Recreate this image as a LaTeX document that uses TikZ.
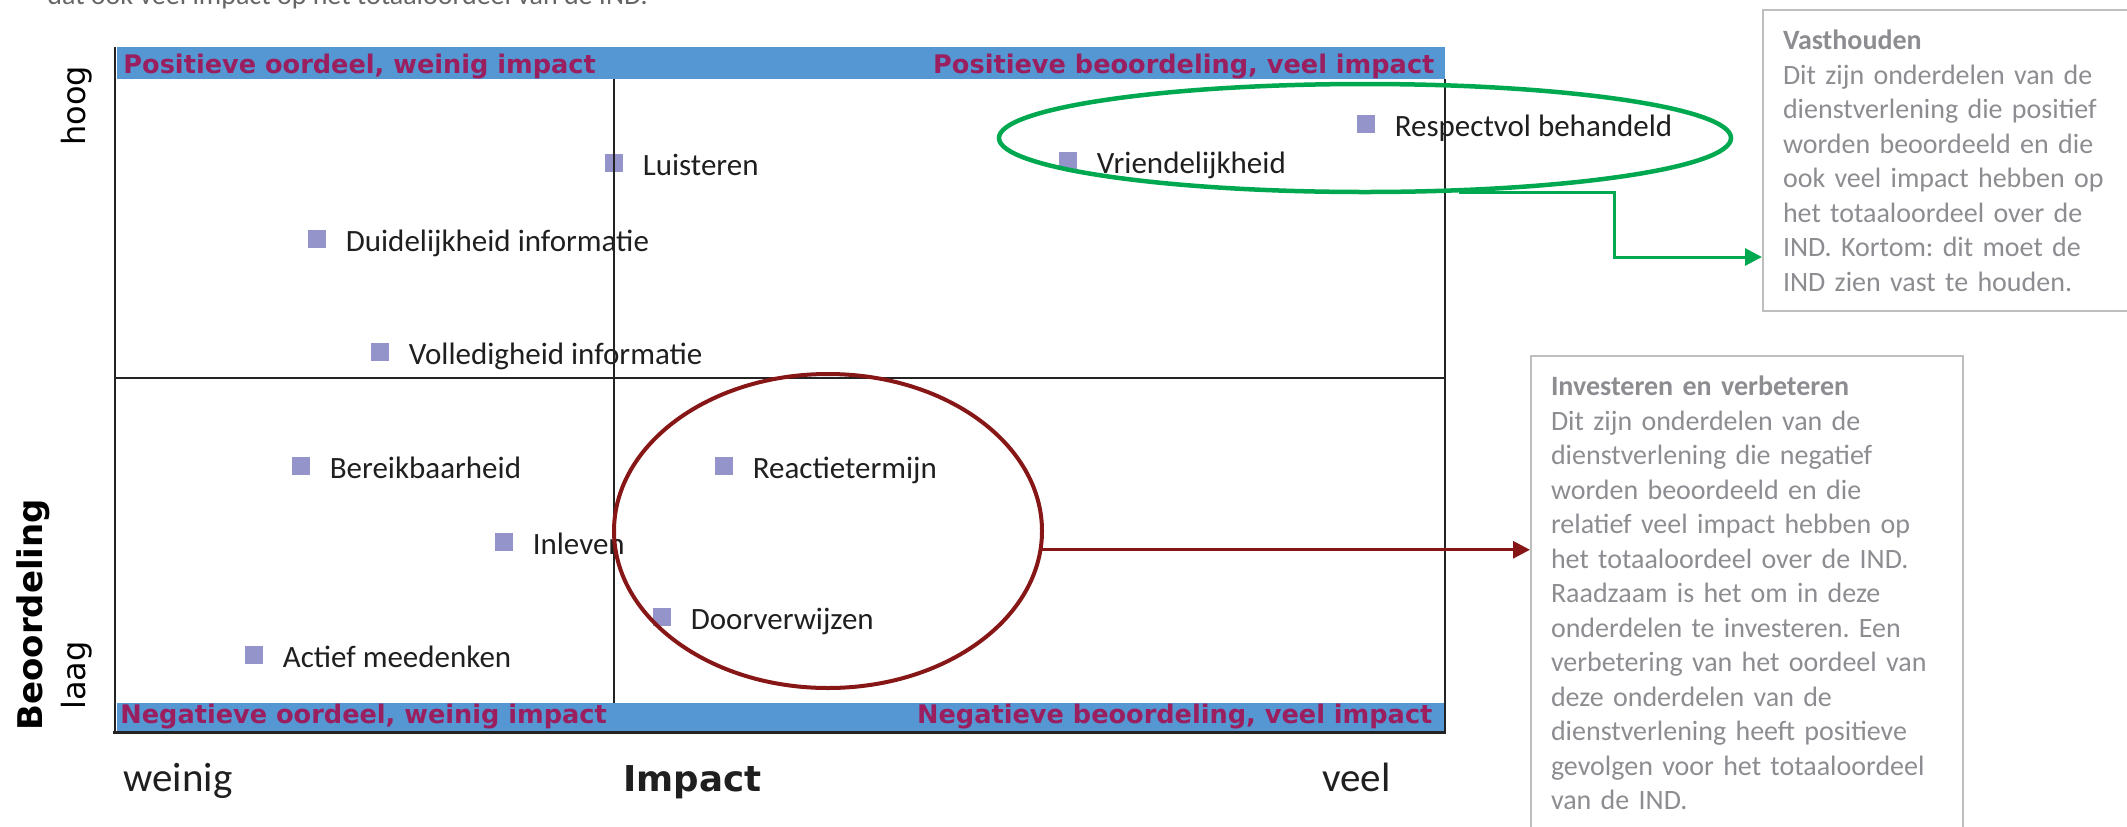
\documentclass[tikz,border=0pt]{standalone}
\usepackage{fontspec}
\setmainfont{Carlito}
\newfontfamily\dejavu{DejaVu Sans}
\usepackage{tikz}
\definecolor{bandblue}{RGB}{84,151,210}
\definecolor{bandtext}{RGB}{155,30,95}
\definecolor{puntblue}{RGB}{148,148,203}
\definecolor{keepgreen}{RGB}{0,168,80}
\definecolor{investred}{RGB}{135,22,22}
\definecolor{boxgray}{RGB}{190,190,190}
\definecolor{notegray}{RGB}{140,140,145}
\definecolor{framegray}{RGB}{35,35,35}
\usetikzlibrary{arrows.meta}
\usetikzlibrary{shapes}
\usetikzlibrary{positioning}

\begin{document}
\frenchspacing
\begin{tikzpicture}[x=0.5pt,y=-0.5pt]
        \tikzset{punt/.style={rectangle, fill=puntblue, minimum size=9pt, inner sep=0pt},
                puntlab/.style={font=\fontsize{15.5}{18}\selectfont, text=black!88, inner sep=0pt,
                                text height=12pt, text depth=0pt},
                quadband/.style={rectangle, fill=bandblue, inner sep=0pt, anchor=north west},
                quadlab/.style={font=\dejavu\bfseries\fontsize{12.8}{15}\selectfont, text=bandtext, inner sep=0pt},
                axislab/.style={font=\fontsize{20.5}{24}\selectfont, text=black!88, inner sep=0pt, anchor=base west},
                sidelab/.style={font=\dejavu\fontsize{16}{19}\selectfont, inner sep=0pt, rotate=90, anchor=base west},
                notebox/.style={draw=boxgray, line width=1pt, text=notegray, align=left, text width=196pt,
                                inner sep=10pt, anchor=north west, font=\fontsize{14}{17.25}\selectfont},
                frame/.style={draw=framegray, line width=1pt},
                >={Triangle[length=8.5pt,width=8.5pt]},
                node distance=9.5pt}
        \useasboundingbox (0,0) rectangle (2127,826);

        % tekst boven, half afgesneden
        \node[font=\fontsize{14}{17}\selectfont, text=black!60, inner sep=0pt, anchor=base west] (intro) at (47,4)
             {dat ook veel impact op het totaaloordeel van de IND.};

        % kwadranten
        \node[quadband, minimum width=248.5pt, minimum height=16pt] (bandpw) at (117,47) {};
        \node[quadband, minimum width=415.5pt, minimum height=16pt] (bandpv) at (614,47) {};
        \node[quadband, minimum width=248.5pt, minimum height=15pt] (bandnw) at (117,703) {};
        \node[quadband, minimum width=415.5pt, minimum height=15pt] (bandnv) at (614,703) {};
        \node[quadlab, anchor=base west] (tpw) at ([xshift=3pt,yshift=3pt]bandpw.south west) {Positieve oordeel, weinig impact};
        \node[quadlab, anchor=base east] (tpv) at ([xshift=-5.5pt,yshift=3pt]bandpv.south east) {Positieve beoordeling, veel impact};
        \node[quadlab, anchor=base west] (tnw) at ([xshift=1.5pt,yshift=5pt]bandnw.south west) {Negatieve oordeel, weinig impact};
        \node[quadlab, anchor=base east] (tnv) at ([xshift=-6.5pt,yshift=5pt]bandnv.south east) {Negatieve beoordeling, veel impact};

        % onderdelen
        \node[punt] (lui) at (614,163) {};
        \node[punt] (dui) at (317,239) {};
        \node[punt] (vol) at (380,352) {};
        \node[punt] (vri) at (1068,161) {};
        \node[punt] (res) at (1366,124) {};
        \node[punt] (ber) at (301,466) {};
        \node[punt] (inl) at (504,542) {};
        \node[punt] (rea) at (724,466) {};
        \node[punt] (doo) at (662,617) {};
        \node[punt] (act) at (254,655) {};
        \node[puntlab, right=of lui] (luit) {Luisteren};
        \node[puntlab, right=of dui] (duit) {Duidelijkheid informatie};
        \node[puntlab, right=of vol] (volt) {Volledigheid informatie};
        \node[puntlab, right=of vri] (vrit) {Vriendelijkheid};
        \node[puntlab, right=of res] (rest) {Respectvol behandeld};
        \node[puntlab, right=of ber] (bert) {Bereikbaarheid};
        \node[puntlab, right=of inl] (inlt) {Inleven};
        \node[puntlab, right=of rea] (reat) {Reactietermijn};
        \node[puntlab, right=of doo] (doot) {Doorverwijzen};
        \node[puntlab, right=of act] (actt) {Actief meedenken};

        % assen
        \draw[frame] (115,47) -- (115,733);
        \draw[frame] (1445,79) -- (1445,733);
        \draw[frame, line width=1.5pt] (113,732) -- (1446,732);
        \draw[frame] (614,79) -- (614,703);
        \draw[frame] (115,378) -- (1445,378);
        \node[axislab] (weinig) at (123,791) {weinig};
        \node[axislab, font=\dejavu\bfseries\fontsize{17.8}{21}\selectfont] (impact) at (623,791) {Impact};
        \node[axislab] (veel) at (1322,791) {veel};
        \node[sidelab] (hoog) at (85,146) {hoog};
        \node[sidelab] (laag) at (85,710) {laag};
        \node[sidelab, font=\dejavu\bfseries\fontsize{17}{20}\selectfont] (beo) at (42,731) {Beoordeling};

        % markeringen en toelichting
        \node[ellipse, draw=keepgreen, line width=2.25pt, minimum width=366pt, minimum height=54pt, inner sep=0pt] (gell) at (1365,138) {};
        \node[ellipse, draw=investred, line width=2pt, minimum width=214pt, minimum height=157pt, inner sep=0pt] (rell) at (828,531) {};

        \node[notebox] (vast) at (1762,9) {\textbf{Vasthouden}\\
            Dit zijn onderdelen van de\\
            dienstverlening die positief\\
            worden beoordeeld en die\\
            ook veel impact hebben op\\
            het totaaloordeel over de\\
            IND. Kortom: dit moet de\\
            IND zien vast te houden.};
        \node[notebox] (inv) at (1530,355) {\textbf{Investeren en verbeteren}\\
            Dit zijn onderdelen van de\\
            dienstverlening die negatief\\
            worden beoordeeld en die\\
            relatief veel impact hebben op\\
            het totaaloordeel over de IND.\\
            Raadzaam is het om in deze\\
            onderdelen te investeren. Een\\
            verbetering van het oordeel van\\
            deze onderdelen van de\\
            dienstverlening heeft positieve\\
            gevolgen voor het totaaloordeel\\
            van de IND.\\
            \mbox{}};

        \coordinate (gknik) at (1614,257);
        \draw [->, draw=keepgreen, line width=1.5pt] (gell.-30) -| (gknik) -- (gknik -| vast.west);
        \path (rell.-5) edge [->, draw=investred, line width=1.5pt] (rell.-5 -| inv.west);

    \end{tikzpicture}
\end{document}
